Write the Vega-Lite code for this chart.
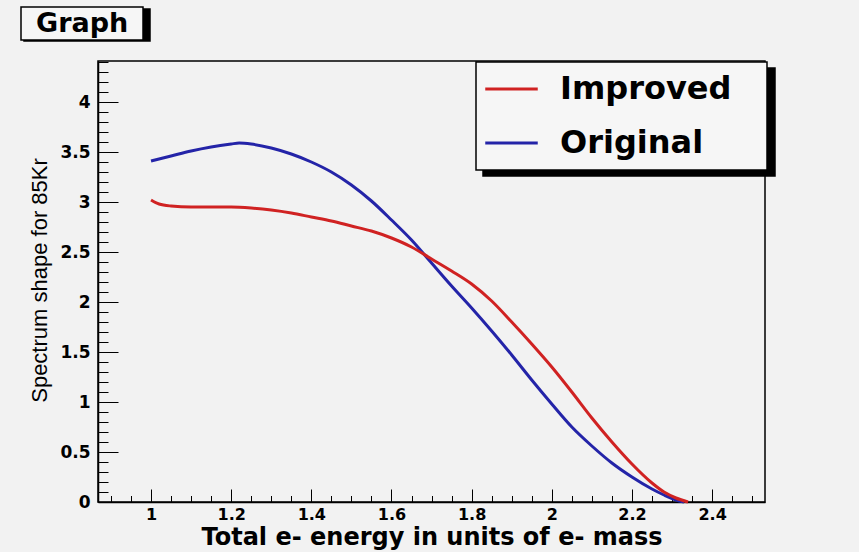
{
  "$schema": "https://vega.github.io/schema/vega-lite/v6.json",
  "autosize": "none",
  "width": 667,
  "height": 441,
  "padding": {"left": 98, "top": 61, "right": 94, "bottom": 50},
  "background": "#f2f2f2",
  "datasets": {
    "spectrum": [
      {"energy": 1.00, "shape": 3.41, "series": "Original"},
      {"energy": 1.05, "shape": 3.46, "series": "Original"},
      {"energy": 1.10, "shape": 3.51, "series": "Original"},
      {"energy": 1.15, "shape": 3.55, "series": "Original"},
      {"energy": 1.20, "shape": 3.58, "series": "Original"},
      {"energy": 1.22, "shape": 3.59, "series": "Original"},
      {"energy": 1.25, "shape": 3.58, "series": "Original"},
      {"energy": 1.30, "shape": 3.54, "series": "Original"},
      {"energy": 1.35, "shape": 3.48, "series": "Original"},
      {"energy": 1.40, "shape": 3.40, "series": "Original"},
      {"energy": 1.45, "shape": 3.30, "series": "Original"},
      {"energy": 1.50, "shape": 3.17, "series": "Original"},
      {"energy": 1.55, "shape": 3.01, "series": "Original"},
      {"energy": 1.60, "shape": 2.82, "series": "Original"},
      {"energy": 1.65, "shape": 2.62, "series": "Original"},
      {"energy": 1.70, "shape": 2.39, "series": "Original"},
      {"energy": 1.75, "shape": 2.16, "series": "Original"},
      {"energy": 1.80, "shape": 1.94, "series": "Original"},
      {"energy": 1.85, "shape": 1.71, "series": "Original"},
      {"energy": 1.90, "shape": 1.47, "series": "Original"},
      {"energy": 1.95, "shape": 1.22, "series": "Original"},
      {"energy": 2.00, "shape": 0.98, "series": "Original"},
      {"energy": 2.05, "shape": 0.75, "series": "Original"},
      {"energy": 2.10, "shape": 0.56, "series": "Original"},
      {"energy": 2.15, "shape": 0.39, "series": "Original"},
      {"energy": 2.20, "shape": 0.25, "series": "Original"},
      {"energy": 2.25, "shape": 0.13, "series": "Original"},
      {"energy": 2.28, "shape": 0.07, "series": "Original"},
      {"energy": 2.31, "shape": 0.02, "series": "Original"},
      {"energy": 2.33, "shape": 0.00, "series": "Original"},
      {"energy": 1.00, "shape": 3.02, "series": "Improved"},
      {"energy": 1.02, "shape": 2.98, "series": "Improved"},
      {"energy": 1.05, "shape": 2.96, "series": "Improved"},
      {"energy": 1.10, "shape": 2.95, "series": "Improved"},
      {"energy": 1.15, "shape": 2.95, "series": "Improved"},
      {"energy": 1.20, "shape": 2.95, "series": "Improved"},
      {"energy": 1.25, "shape": 2.94, "series": "Improved"},
      {"energy": 1.30, "shape": 2.92, "series": "Improved"},
      {"energy": 1.35, "shape": 2.89, "series": "Improved"},
      {"energy": 1.40, "shape": 2.85, "series": "Improved"},
      {"energy": 1.45, "shape": 2.81, "series": "Improved"},
      {"energy": 1.50, "shape": 2.76, "series": "Improved"},
      {"energy": 1.55, "shape": 2.71, "series": "Improved"},
      {"energy": 1.60, "shape": 2.64, "series": "Improved"},
      {"energy": 1.65, "shape": 2.55, "series": "Improved"},
      {"energy": 1.70, "shape": 2.43, "series": "Improved"},
      {"energy": 1.75, "shape": 2.31, "series": "Improved"},
      {"energy": 1.80, "shape": 2.18, "series": "Improved"},
      {"energy": 1.85, "shape": 2.01, "series": "Improved"},
      {"energy": 1.90, "shape": 1.80, "series": "Improved"},
      {"energy": 1.95, "shape": 1.58, "series": "Improved"},
      {"energy": 2.00, "shape": 1.35, "series": "Improved"},
      {"energy": 2.05, "shape": 1.10, "series": "Improved"},
      {"energy": 2.10, "shape": 0.84, "series": "Improved"},
      {"energy": 2.15, "shape": 0.60, "series": "Improved"},
      {"energy": 2.20, "shape": 0.38, "series": "Improved"},
      {"energy": 2.25, "shape": 0.19, "series": "Improved"},
      {"energy": 2.28, "shape": 0.10, "series": "Improved"},
      {"energy": 2.31, "shape": 0.04, "series": "Improved"},
      {"energy": 2.34, "shape": 0.00, "series": "Improved"}
    ],
    "caption": [{"name": "Graph"}]
  },
  "layer": [
    {
      "description": "Hidden copy of the curves: carries the minor ticks and the legend's drop shadow",
      "data": {"name": "spectrum"},
      "mark": {"type": "line", "opacity": 0},
      "encoding": {
        "x": {
          "field": "energy", "type": "quantitative",
          "scale": {"domain": [0.8677, 2.532], "nice": false, "zero": false},
          "axis": {
            "orient": "bottom", "title": null, "labels": false, "domain": false, "grid": false,
            "values": [0.9, 0.95, 1.05, 1.1, 1.15, 1.25, 1.3, 1.35, 1.45, 1.5, 1.55, 1.65, 1.7, 1.75, 1.85, 1.9, 1.95, 2.05, 2.1, 2.15, 2.25, 2.3, 2.35, 2.45, 2.5],
            "tickSize": -6.5, "tickColor": "#000000", "tickWidth": 1
          }
        },
        "y": {
          "field": "shape", "type": "quantitative",
          "scale": {"domain": [0, 4.41], "nice": false},
          "axis": {
            "orient": "left", "title": null, "labels": false, "domain": false, "grid": false,
            "values": [0.1, 0.2, 0.3, 0.4, 0.6, 0.7, 0.8, 0.9, 1.1, 1.2, 1.3, 1.4, 1.6, 1.7, 1.8, 1.9, 2.1, 2.2, 2.3, 2.4, 2.6, 2.7, 2.8, 2.9, 3.1, 3.2, 3.3, 3.4, 3.6, 3.7, 3.8, 3.9, 4.1, 4.2, 4.3, 4.4],
            "tickSize": -10, "tickColor": "#000000", "tickWidth": 1
          }
        },
        "color": {
          "field": "series", "type": "nominal",
          "scale": {"domain": ["Original", "Improved"], "range": ["#000000", "#000000"]},
          "legend": {
            "orient": "none", "legendX": 385, "legendY": 7,
            "fillColor": "#000000", "strokeColor": "#000000",
            "padding": 11, "rowPadding": 22,
            "symbolType": "M-2.5,0H2.5", "symbolSize": 441, "symbolStrokeWidth": 3, "symbolOpacity": 0, "symbolOffset": 8.5,
            "labelOffset": 229.5, "labelExpr": "''", "labelFont": "DejaVu Sans", "labelFontWeight": "bold", "labelFontSize": 32,
            "title": null,
            "values": ["Improved", "Original"]
          }
        },
        "detail": {"field": "series"}
      }
    },
    {
      "description": "Spectrum curves",
      "data": {"name": "spectrum"},
      "mark": {"type": "line", "strokeWidth": 3, "interpolate": "monotone"},
      "encoding": {
        "x": {
          "field": "energy", "type": "quantitative",
          "scale": {"domain": [0.8677, 2.532], "nice": false, "zero": false},
          "axis": {
            "orient": "bottom", "grid": false,
            "values": [1, 1.2, 1.4, 1.6, 1.8, 2, 2.2, 2.4], "format": "~g",
            "tickSize": -13, "tickColor": "#000000", "tickWidth": 1,
            "domain": true, "domainColor": "#000000", "domainWidth": 1.5,
            "labelFont": "DejaVu Sans", "labelFontWeight": "bold", "labelFontSize": 16, "labelColor": "#000000",
            "labelPadding": 17, "labelFlush": false, "labelOverlap": false,
            "title": "Total e- energy in units of e- mass",
            "titleFont": "DejaVu Sans", "titleFontWeight": "bold", "titleFontSize": 24, "titleColor": "#000000",
            "titlePadding": 3
          }
        },
        "y": {
          "field": "shape", "type": "quantitative",
          "scale": {"domain": [0, 4.41], "nice": false},
          "axis": {
            "orient": "left", "grid": false,
            "values": [0, 0.5, 1, 1.5, 2, 2.5, 3, 3.5, 4], "format": "~g",
            "tickSize": -20, "tickColor": "#000000", "tickWidth": 1,
            "domain": true, "domainColor": "#000000", "domainWidth": 1.5,
            "labelFont": "DejaVu Sans", "labelFontWeight": "bold", "labelFontSize": 17, "labelColor": "#000000",
            "labelPadding": 28, "labelFlush": false, "labelOverlap": false,
            "title": "Spectrum shape for 85Kr",
            "titleFont": "Liberation Sans", "titleFontWeight": "normal", "titleFontSize": 22, "titleColor": "#000000",
            "titleAngle": 270, "titleBaseline": "bottom", "titleX": -47, "titleY": 219, "titleAlign": "center"
          }
        },
        "stroke": {
          "field": "series", "type": "nominal",
          "scale": {"domain": ["Improved", "Original"], "range": ["#d02222", "#2424a8"]},
          "legend": {
            "orient": "none", "legendX": 378, "legendY": 1,
            "fillColor": "#f6f6f6", "strokeColor": "#000000",
            "padding": 11, "rowPadding": 22,
            "symbolType": "M-2.5,0H2.5", "symbolSize": 441, "symbolStrokeWidth": 3, "symbolOffset": 8.5,
            "labelOffset": 32.5, "labelLimit": 400, "labelFont": "DejaVu Sans", "labelFontWeight": "bold", "labelFontSize": 32, "labelColor": "#000000",
            "title": " ", "titleOrient": "right", "titleFontSize": 8, "titlePadding": 25
          }
        }
      }
    },
    {
      "description": "Drop shadow of the caption box",
      "data": {"name": "caption"},
      "mark": {"type": "point", "opacity": 0},
      "encoding": {
        "size": {
          "field": "name", "type": "ordinal",
          "scale": {"domain": ["Graph"], "range": [1, 1]},
          "legend": {
            "orient": "none", "legendX": -74, "legendY": -52,
            "fillColor": "#000000", "strokeColor": "#000000",
            "padding": 3, "symbolSize": 0, "symbolOpacity": 0, "symbolStrokeWidth": 0,
            "labelOffset": 94, "labelExpr": "''", "labelFont": "DejaVu Sans", "labelFontWeight": "bold", "labelFontSize": 26,
            "title": null
          }
        }
      }
    },
    {
      "description": "Boxed plot caption",
      "data": {"name": "caption"},
      "mark": {"type": "point", "opacity": 0},
      "encoding": {
        "shape": {
          "field": "name", "type": "nominal",
          "legend": {
            "orient": "none", "legendX": -77, "legendY": -54,
            "fillColor": "#f6f6f6", "strokeColor": "#000000",
            "padding": 3, "symbolSize": 0, "symbolOpacity": 0, "symbolStrokeWidth": 0,
            "labelOffset": -15, "labelFont": "DejaVu Sans", "labelFontWeight": "bold", "labelFontSize": 27, "labelColor": "#000000",
            "title": " ", "titleOrient": "right", "titleFontSize": 8, "titlePadding": 12
          }
        }
      }
    }
  ],
  "resolve": {"axis": {"x": "independent", "y": "independent"}},
  "config": {
    "view": {"stroke": "#000000", "strokeWidth": 1.5, "fill": "#f4f4f4"},
    "legend": {"strokeWidth": 1.5}
  }
}
